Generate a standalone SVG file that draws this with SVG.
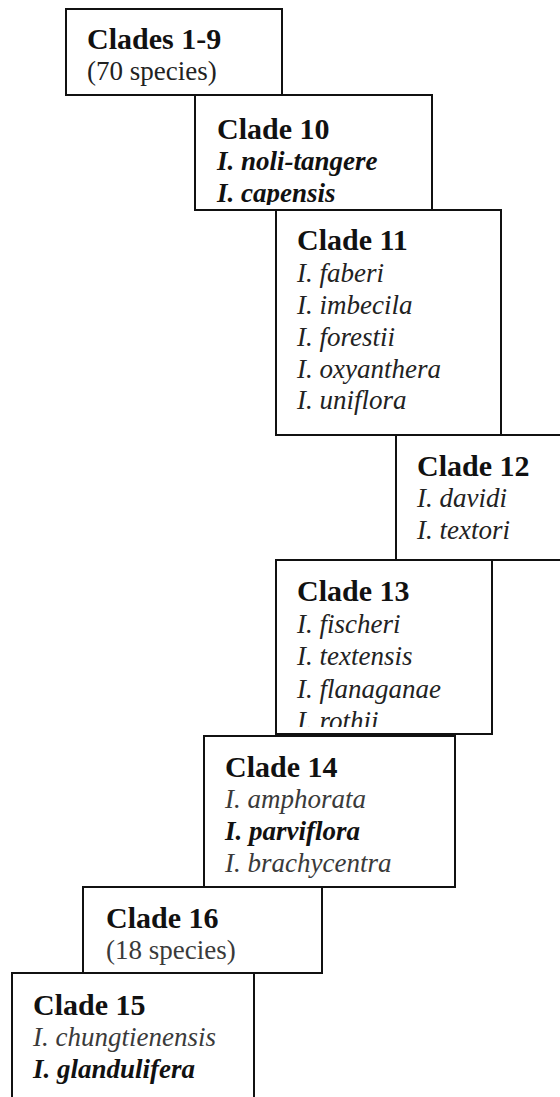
<svg xmlns="http://www.w3.org/2000/svg" width="560" height="1097" viewBox="0 0 560 1097">
<style>
.box{fill:#fff;stroke:#111;stroke-width:2}
.t{font-family:"Liberation Serif",serif;font-size:30px;font-weight:bold;fill:#111}
.i{font-family:"Liberation Serif",serif;font-size:27px;font-style:italic;fill:#222}
.ib{font-family:"Liberation Serif",serif;font-size:27px;font-style:italic;font-weight:bold;fill:#111}
.r{font-family:"Liberation Serif",serif;font-size:27px;fill:#222}
.g{fill:#3a3a3a}
</style>
<defs>
<clipPath id="c2"><rect x="195" y="95" width="237" height="110"/></clipPath>
<clipPath id="c5"><rect x="276" y="560" width="216" height="167"/></clipPath>
</defs>
<g id="clade-1-9">
<rect class="box" x="66" y="9" width="216" height="86"/>
<text class="t" x="87" y="49">Clades 1-9</text>
<text class="r" x="87" y="80">(70 species)</text>
</g>
<g id="clade-10">
<rect class="box" x="195" y="95" width="237" height="115"/>
<g clip-path="url(#c2)">
<text class="t" x="217" y="139">Clade 10</text>
<text class="ib" x="217" y="170">I. noli-tangere</text>
<text class="ib" x="217" y="202">I. capensis</text>
</g>
</g>
<g id="clade-11">
<rect class="box" x="276" y="210" width="225" height="225"/>
<text class="t" x="297" y="250">Clade 11</text>
<text class="i" x="297" y="282">I. faberi</text>
<text class="i" x="297" y="314">I. imbecila</text>
<text class="i" x="297" y="346">I. forestii</text>
<text class="i" x="297" y="378">I. oxyanthera</text>
<text class="i" x="297" y="409">I. uniflora</text>
</g>
<g id="clade-12">
<rect class="box" x="396" y="435" width="170" height="125"/>
<text class="t" x="417" y="476">Clade 12</text>
<text class="i" x="417" y="507">I. davidi</text>
<text class="i" x="417" y="539">I. textori</text>
</g>
<g id="clade-13">
<rect class="box" x="276" y="560" width="216" height="174"/>
<g clip-path="url(#c5)">
<text class="t" x="297" y="601">Clade 13</text>
<text class="i" x="297" y="633">I. fischeri</text>
<text class="i" x="297" y="665">I. textensis</text>
<text class="i" x="297" y="698">I. flanaganae</text>
<text class="i" x="297" y="730">I. rothii</text>
</g>
</g>
<g id="clade-14">
<rect class="box" x="204" y="736" width="251" height="151"/>
<text class="t" x="225" y="777">Clade 14</text>
<text class="i g" x="225" y="808">I. amphorata</text>
<text class="ib" x="225" y="840">I. parviflora</text>
<text class="i g" x="225" y="872">I. brachycentra</text>
</g>
<g id="clade-16">
<rect class="box" x="83" y="887" width="239" height="86"/>
<text class="t" x="106" y="928">Clade 16</text>
<text class="r g" x="106" y="959">(18 species)</text>
</g>
<g id="clade-15">
<rect class="box" x="12" y="973" width="242" height="140"/>
<text class="t" x="33" y="1015">Clade 15</text>
<text class="i g" x="33" y="1046">I. chungtienensis</text>
<text class="ib" x="33" y="1078">I. glandulifera</text>
</g>
<g id="connectors"></g>
</svg>
